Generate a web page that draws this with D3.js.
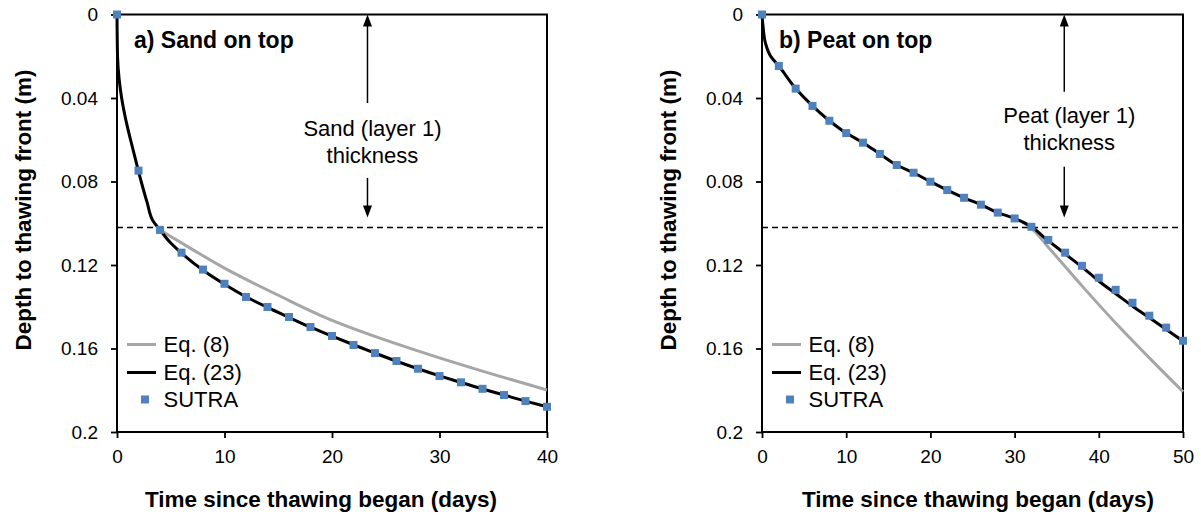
<!DOCTYPE html>
<html><head><meta charset="utf-8">
<script src="https://cdn.jsdelivr.net/npm/d3@7"></script>
<style>
body{margin:0;background:#fff}
svg{display:block}
text{font-family:"Liberation Sans",Arial,Helvetica,sans-serif;fill:#000}
</style>
</head><body>
<svg id="chart" width="1201" height="518"></svg>
<script>
// ---------- data ----------
const yTicks = [0, 0.04, 0.08, 0.12, 0.16, 0.2];
const yTickLabels = ["0", "0.04", "0.08", "0.12", "0.16", "0.2"];
const xTicksA = [0, 10, 20, 30, 40];
const xTicksB = [0, 10, 20, 30, 40, 50];
const layerThickness = 0.102;

// panel a: Sand on top
const sutraTimeA  = [0,2,4,6,8,10,12,14,16,18,20,22,24,26,28,30,32,34,36,38,40];
const sutraDepthA = [0,0.0748,0.1032,0.1141,0.1222,0.1290,0.1353,0.1401,0.1449,0.1497,0.1540,0.1583,0.1622,0.1660,0.1697,0.1732,0.1762,0.1793,0.1823,0.1852,0.1879];
const eq23TimeA  = [0,0.05,0.2,0.43,0.8,1.26,1.75,2.25,2.8,3.4,4,5,6,8,10,12,14,16,18,20,22,24,26,28,30,32,34,36,38,40];
const eq23DepthA = [0,0.02,0.031,0.04,0.05,0.06,0.07,0.08,0.09,0.0993,0.1032,0.1095,0.1143,0.1225,0.1292,0.1352,0.1403,0.1451,0.1498,0.1541,0.1582,0.1622,0.1661,0.1697,0.1731,0.1763,0.1794,0.1823,0.1852,0.1879];
const eq8TimeA  = [4,7,10,15,20,25,30,35,40];
const eq8DepthA = [0.1032,0.1125,0.1215,0.1345,0.1465,0.1560,0.1645,0.1724,0.1799];

// panel b: Peat on top
const sutraTimeB  = [0,2,4,6,8,10,12,14,16,18,20,22,24,26,28,30,32,34,36,38,40,42,44,46,48,50];
const sutraDepthB = [0,0.0247,0.0355,0.0438,0.0509,0.0568,0.0614,0.0668,0.0721,0.0758,0.0801,0.0841,0.0878,0.0911,0.0949,0.0977,0.1017,0.1080,0.1141,0.1204,0.1261,0.1319,0.1381,0.1443,0.1500,0.1563];
const eq23TimeB  = [0,0.13,0.42,1.06,2,4,6,8,10,12,14,16,18,20,22,24,26,28,30,31,32,33.4,35.4,38.2,40.1,42.1,44.1,46.1,48.1,50];
const eq23DepthB = [0,0.0058,0.0138,0.0202,0.0247,0.0355,0.0438,0.0509,0.0568,0.0614,0.0668,0.0721,0.0758,0.0801,0.0841,0.0878,0.0911,0.0949,0.0977,0.0995,0.1017,0.1064,0.1128,0.1216,0.1280,0.1340,0.1400,0.1455,0.1511,0.1565];
const eq8TimeB  = [31,32,34,38,42,46,50];
const eq8DepthB = [0.0995,0.1025,0.1115,0.1300,0.1478,0.1645,0.1807];

const legendLabels = ["Eq. (8)", "Eq. (23)", "SUTRA"];
const panelTitles = ["a) Sand on top", "b) Peat on top"];
const annotLine1 = ["Sand (layer 1)", "Peat (layer 1)"];
const annotLine2 = "thickness";
const yTitle = "Depth to thawing front (m)";
const xTitle = "Time since thawing began (days)";

// ---------- style / layout ----------
const colGrey = "#a6a6a6", colBlack = "#000", colBlue = "#4f81bd";
const svg = d3.select("#chart");
svg.append("rect").attr("width",1201).attr("height",518).attr("fill","#fff");

const panels = [
  {left:117, right:547, top:14.5, bottom:432, xMax:40, xTicks:xTicksA,
   sT:sutraTimeA, sD:sutraDepthA, bT:eq23TimeA, bD:eq23DepthA, gT:eq8TimeA, gD:eq8DepthA,
   title:panelTitles[0], annot:annotLine1[0], arrowT:23.3, arrowTop:0.0424, arrowBotStart:0.0783,
   annotY1:136, annotY2:163, xTitleX:321},
  {left:762, right:1183, top:14.5, bottom:432, xMax:50, xTicks:xTicksB,
   sT:sutraTimeB, sD:sutraDepthB, bT:eq23TimeB, bD:eq23DepthB, gT:eq8TimeB, gD:eq8DepthB,
   title:panelTitles[1], annot:annotLine1[1], arrowT:35.9, arrowTop:0.037, arrowBotStart:0.0729,
   annotY1:123, annotY2:150, xTitleX:978}
];

panels.forEach(p => {
  const x = d3.scaleLinear().domain([0, p.xMax]).range([p.left, p.right]);
  const y = d3.scaleLinear().domain([0, 0.2]).range([p.top, p.bottom]);
  const g = svg.append("g");

  // axes
  const ya = g.append("g").attr("transform",`translate(${p.left},0)`)
    .call(d3.axisLeft(y).tickValues(yTicks).tickFormat((d,i)=>yTickLabels[i])
      .tickSize(6).tickSizeOuter(0).tickPadding(13));
  const xa = g.append("g").attr("transform",`translate(0,${p.bottom})`)
    .call(d3.axisBottom(x).tickValues(p.xTicks).tickFormat(d3.format("d"))
      .tickSize(6).tickSizeOuter(0).tickPadding(12));
  [ya, xa].forEach(a => {
    a.select(".domain").remove();
    a.selectAll("line").attr("stroke","#000").attr("stroke-width",1.8);
    a.selectAll("text").attr("font-size",19).attr("fill","#000")
      .attr("font-family",'"Liberation Sans",Arial,sans-serif');
  });

  // box
  g.append("rect").attr("x",p.left).attr("y",p.top)
    .attr("width",p.right-p.left).attr("height",p.bottom-p.top)
    .attr("fill","none").attr("stroke","#000").attr("stroke-width",2);

  // layer boundary
  g.append("line").attr("x1",x(0)).attr("x2",x(p.xMax)-3)
    .attr("y1",y(layerThickness)).attr("y2",y(layerThickness))
    .attr("stroke","#000").attr("stroke-width",1.5).attr("stroke-dasharray","6,4");

  // thickness arrow
  const ax = x(p.arrowT);
  g.append("line").attr("x1",ax).attr("x2",ax).attr("y1",y(0)+10).attr("y2",y(p.arrowTop))
    .attr("stroke","#000").attr("stroke-width",1.5);
  g.append("path").attr("d",`M${ax},${y(0)} L${ax-4.5},${y(0)+12} L${ax+4.5},${y(0)+12} Z`).attr("fill","#000");
  const tipY = y(layerThickness) - 10;
  g.append("line").attr("x1",ax).attr("x2",ax).attr("y1",y(p.arrowBotStart)).attr("y2",tipY-10)
    .attr("stroke","#000").attr("stroke-width",1.5);
  g.append("path").attr("d",`M${ax},${tipY} L${ax-4.5},${tipY-12} L${ax+4.5},${tipY-12} Z`).attr("fill","#000");
  g.append("text").attr("x",ax+5).attr("y",p.annotY1).attr("text-anchor","middle").attr("font-size",22).text(p.annot);
  g.append("text").attr("x",ax+5).attr("y",p.annotY2).attr("text-anchor","middle").attr("font-size",22).text(annotLine2);

  // lines
  const line = d3.line().x(d=>x(d[0])).y(d=>y(d[1])).curve(d3.curveMonotoneY);
  g.append("path").datum(p.gT.map((t,i)=>[t,p.gD[i]])).attr("d",line)
    .attr("fill","none").attr("stroke",colGrey).attr("stroke-width",3);
  g.append("path").datum(p.bT.map((t,i)=>[t,p.bD[i]])).attr("d",line)
    .attr("fill","none").attr("stroke",colBlack).attr("stroke-width",3).attr("stroke-linejoin","round");

  // SUTRA squares
  const s = 8;
  g.selectAll("rect.pt").data(p.sT.map((t,i)=>[t,p.sD[i]])).enter().append("rect")
    .attr("class","pt").attr("x",d=>x(d[0])-s/2).attr("y",d=>y(d[1])-s/2)
    .attr("width",s).attr("height",s).attr("fill",colBlue);

  // panel title
  g.append("text").attr("x",p.left+17).attr("y",48).attr("font-size",23).attr("font-weight","bold").text(p.title);

  // legend
  const lx = p.left;
  const ly = [344.5, 372.5, 399.5];
  g.append("line").attr("x1",lx+10).attr("x2",lx+39).attr("y1",ly[0]).attr("y2",ly[0]).attr("stroke",colGrey).attr("stroke-width",3);
  g.append("line").attr("x1",lx+10).attr("x2",lx+39).attr("y1",ly[1]).attr("y2",ly[1]).attr("stroke",colBlack).attr("stroke-width",3);
  g.append("rect").attr("x",lx+28-s/2).attr("y",ly[2]-s/2).attr("width",s).attr("height",s).attr("fill",colBlue);
  legendLabels.forEach((l,i)=>{
    g.append("text").attr("x",lx+46.5).attr("y",ly[i]).attr("dy","0.36em").attr("font-size",22).text(l);
  });

  // axis titles
  g.append("text").attr("transform",`translate(${p.left-86},210) rotate(-90)`)
    .attr("text-anchor","middle").attr("font-size",22.5).attr("font-weight","bold").text(yTitle);
  g.append("text").attr("x",p.xTitleX).attr("y",507).attr("text-anchor","middle")
    .attr("font-size",22.5).attr("font-weight","bold").text(xTitle);
});
</script>
</body></html>
